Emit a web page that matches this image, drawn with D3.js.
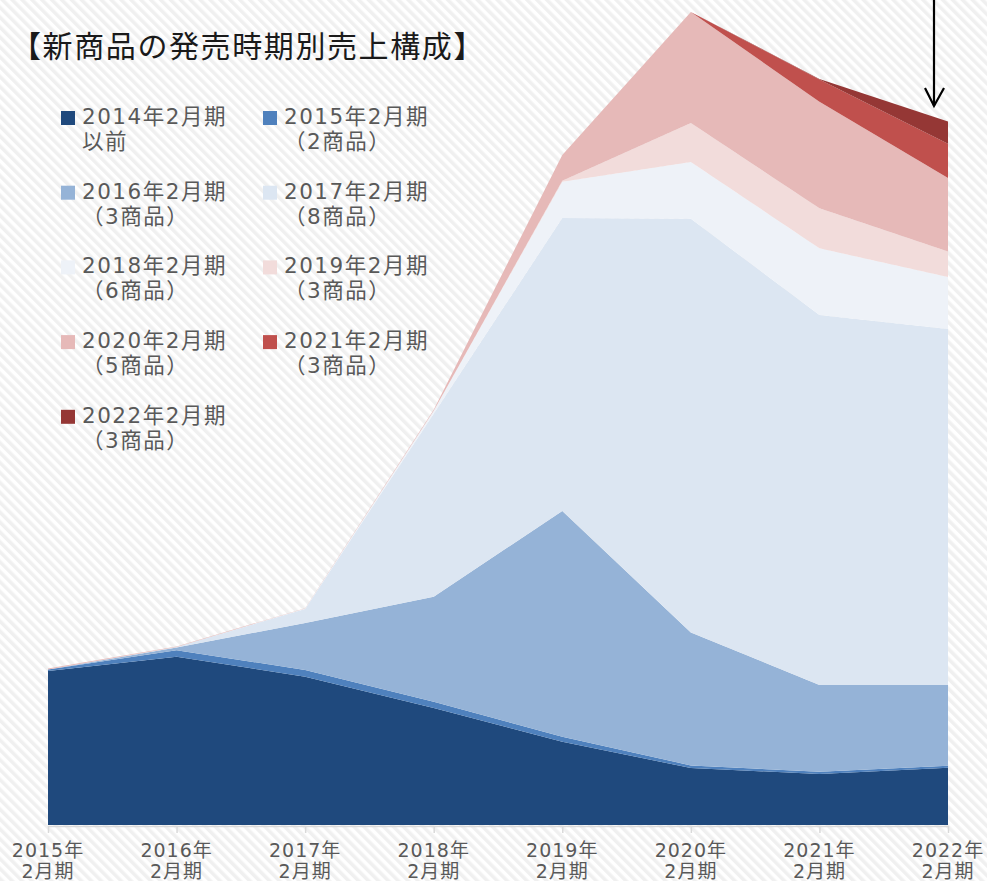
<!DOCTYPE html>
<html>
<head>
<meta charset="utf-8">
<script src="https://cdn.jsdelivr.net/npm/d3@7"></script>
<style>
  html, body { margin: 0; padding: 0; background: #fff; }
  svg { display: block; }
</style>
</head>
<body>
<div id="chart"></div>
<script>
// 決算期（x軸）
const years = ["2015", "2016", "2017", "2018", "2019", "2020", "2021", "2022"];

// 発売時期別の系列（下から積み上げ）
const seriesKeys = ["s2014", "s2015", "s2016", "s2017", "s2018", "s2019", "s2020", "s2021", "s2022"];
const legendLines = [
  ["2014年2月期", "以前"],
  ["2015年2月期", "（2商品）"],
  ["2016年2月期", "（3商品）"],
  ["2017年2月期", "（8商品）"],
  ["2018年2月期", "（6商品）"],
  ["2019年2月期", "（3商品）"],
  ["2020年2月期", "（5商品）"],
  ["2021年2月期", "（3商品）"],
  ["2022年2月期", "（3商品）"]
];

// 売上（画像から読み取った概算値）
const s2014 = [15.4, 16.83, 14.83, 11.7, 8.33, 5.7, 5.1, 5.73];
const s2015 = [0.15, 0.65, 0.67, 0.63, 0.5, 0.26, 0.23, 0.2];
const s2016 = [0, 0.27, 4.7, 10.5, 22.57, 13.3, 8.67, 8.07];
const s2017 = [0, 0.05, 1.4, 18.3, 29.3, 41.37, 37.0, 35.6];
const s2018 = [0, 0, 0.05, 0.3, 3.63, 5.67, 6.67, 5.2];
const s2019 = [0, 0, 0, 0, 0.1, 3.9, 4.0, 2.56];
const s2020 = [0.1, 0.05, 0.03, 0.1, 2.57, 11.1, 10.66, 7.33];
const s2021 = [0, 0, 0, 0, 0, 0, 2.22, 3.43];
const s2022 = [0, 0, 0, 0, 0, 0, 0.05, 2.23];

const colors = ["#1f497d", "#4f81bd", "#95b3d7", "#dce6f2", "#eef2f8", "#f2dcdb", "#e6b9b8", "#c0504d", "#953735"];

const allSeries = [s2014, s2015, s2016, s2017, s2018, s2019, s2020, s2021, s2022];
const table = years.map((y, i) => {
  const row = {year: y};
  seriesKeys.forEach((k, j) => { row[k] = allSeries[j][i]; });
  return row;
});

const W = 987, H = 881;
const numFont = "'DejaVu Sans', 'Noto Sans CJK JP', sans-serif";
const jpFont = "'Noto Sans CJK JP', sans-serif";

const svg = d3.select("#chart").append("svg")
  .attr("width", W)
  .attr("height", H);

// 斜めストライプの背景
const defs = svg.append("defs");
const pat = defs.append("pattern")
  .attr("id", "stripes")
  .attr("patternUnits", "userSpaceOnUse")
  .attr("width", 7)
  .attr("height", 7)
  .attr("patternTransform", "rotate(-45)");
pat.append("rect").attr("width", 7).attr("height", 7).attr("fill", "#ffffff");
pat.append("rect").attr("width", 3.5).attr("height", 7).attr("fill", "#f0f0f0");

svg.append("rect")
  .attr("width", W)
  .attr("height", H)
  .attr("fill", "url(#stripes)");

const x = d3.scalePoint()
  .domain(years)
  .range([48, 948]);

const y = d3.scaleLinear()
  .domain([0, 82.5])
  .range([825, 0]);

const stacked = d3.stack().keys(seriesKeys)(table);

const area = d3.area()
  .x(d => x(d.data.year))
  .y0(d => y(d[0]))
  .y1(d => y(d[1]));

svg.append("g")
  .selectAll("path")
  .data(stacked)
  .join("path")
    .attr("d", area)
    .attr("fill", (d, i) => colors[i]);

// x軸
const axis = svg.append("g")
  .attr("transform", "translate(0, 826)")
  .call(d3.axisBottom(x).tickSize(7).tickSizeOuter(0).tickFormat(""));
axis.select(".domain").attr("stroke", "#d9d9d9").attr("stroke-width", 1.5);
axis.selectAll(".tick line").attr("stroke", "#d9d9d9").attr("stroke-width", 1.5);

const lbl = svg.append("g")
  .selectAll("text")
  .data(years)
  .join("text")
    .attr("x", d => x(d))
    .attr("text-anchor", "middle")
    .attr("font-family", numFont)
    .attr("font-size", 19)
    .attr("letter-spacing", 1)
    .attr("fill", "#595959");
lbl.append("tspan").attr("x", d => x(d)).attr("y", 857).text(d => d + "年");
lbl.append("tspan").attr("x", d => x(d)).attr("y", 878).text("2月期");

// タイトル
svg.append("text")
  .attr("x", 11)
  .attr("y", 57)
  .attr("font-family", jpFont)
  .attr("font-size", 30)
  .attr("letter-spacing", 1.6)
  .attr("fill", "#1a1a1a")
  .text("【新商品の発売時期別売上構成】");

// 凡例
const legend = svg.append("g");
legendLines.forEach((lines, i) => {
  const col = i % 2, row = Math.floor(i / 2);
  const lx = col === 0 ? 61 : 263;
  const by = 124 + row * 74.7;
  const g = legend.append("g");
  g.append("rect")
    .attr("x", lx)
    .attr("y", by - 13)
    .attr("width", 14)
    .attr("height", 14)
    .attr("fill", colors[i]);
  const t = g.append("text")
    .attr("font-family", numFont)
    .attr("font-size", 21.5)
    .attr("letter-spacing", 1.5)
    .attr("fill", "#595959");
  t.append("tspan").attr("x", lx + 21).attr("y", by).text(lines[0]);
  t.append("tspan").attr("x", lx + 21).attr("y", by + 25).text(lines[1]);
});

// 矢印
const arrow = svg.append("g")
  .attr("stroke", "#000")
  .attr("stroke-width", 2.2)
  .attr("fill", "none");
arrow.append("line").attr("x1", 934).attr("y1", 0).attr("x2", 934).attr("y2", 106);
arrow.append("path").attr("d", "M925,88 L934,106 L944,88");
</script>
</body>
</html>
